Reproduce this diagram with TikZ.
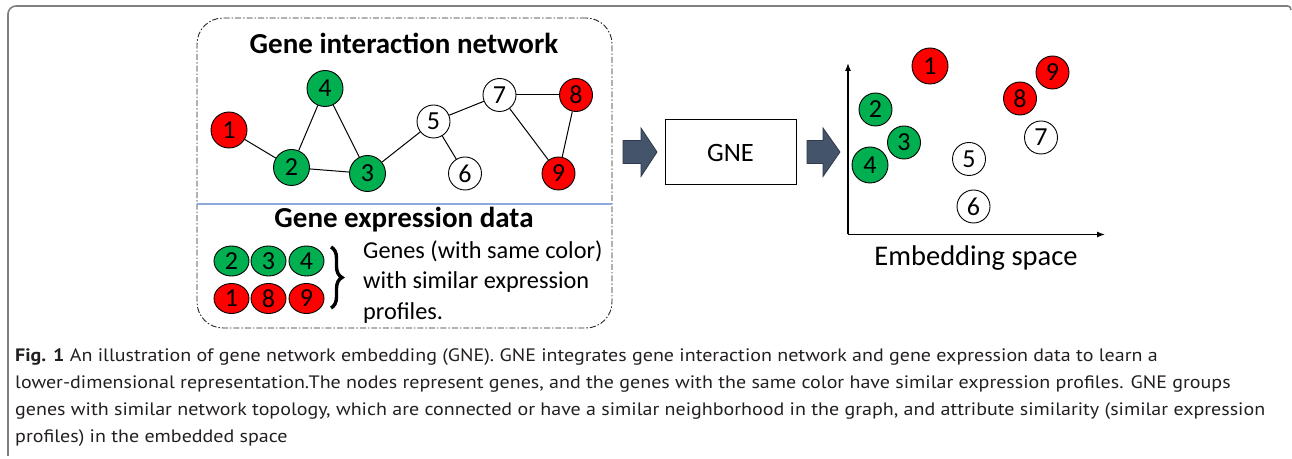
\documentclass[tikz,border=0pt]{standalone}
\usepackage{fontspec}
\setmainfont{Carlito}
\newfontfamily\capfont{PT Sans}
\usetikzlibrary{decorations.pathreplacing,arrows.meta,shapes.geometric}
\definecolor{gred}{HTML}{FF0000}
\definecolor{ggreen}{HTML}{00B050}
\definecolor{slate}{HTML}{44546A}
\definecolor{slateedge}{HTML}{2F3A4A}
\definecolor{sepblue}{HTML}{8EA9DB}
\definecolor{framegray}{HTML}{7F7F7F}
\definecolor{captext}{HTML}{231F20}
\newcommand\capfontsel{\capfont\fontsize{18bp}{27bp}\selectfont}
\newsavebox\capmeasure
\newcommand\capl[1]{\scalebox{\capsx}[1]{#1}}
\begin{document}
\sbox\capmeasure{\capfontsel genes with similar network topology, which are connected or have a similar neighborhood in the graph, and attribute similarity (similar expression}%
\pgfmathsetmacro\capsx{1250bp/\wd\capmeasure}%
\begin{tikzpicture}[x=1bp,y=-1bp,
  gnode/.style={circle, draw=black, line width=0.9bp, minimum size=36bp, inner sep=0pt,
    font=\fontsize{26bp}{26bp}\selectfont},
  snode/.style={gnode, minimum size=33bp},
  rnode/.style={gnode, fill=gred},
  grnode/.style={gnode, fill=ggreen},
  wnode/.style={snode, fill=white},
  xnode/.style={ellipse, draw=black, line width=0.9bp, minimum width=35bp, minimum height=30bp, inner sep=0pt,
    font=\fontsize{26bp}{26bp}\selectfont},
  edge/.style={draw=black, line width=1bp},
  title/.style={font=\fontsize{29bp}{30bp}\selectfont\bfseries},
  body/.style={font=\fontsize{24.3bp}{30.5bp}\selectfont},
  blockarrow/.style={fill=slate, draw=slateedge, line width=0.8bp},
  axis/.style={draw=black, line width=1.3bp, -{Latex[length=8bp,width=6bp]}},
  capstyle/.style={anchor=base west, inner sep=0pt, text=captext, font=\capfontsel}
]
\useasboundingbox (0,0) rectangle (1292,459);
% outer frame
\draw[framegray, line width=1.6bp, rounded corners=8bp] (8,456) -- (8,6) -- (1288,6);
\draw[framegray, line width=1.6bp] (1288,6) to[out=0,in=90] (1291,10);

% panel
\node[draw=black!85, line width=0.9bp, dash pattern=on 6bp off 2bp on 1.5bp off 2bp,
  rounded corners=26bp, minimum width=415bp, minimum height=310bp] (panel) at (404.5,173) {};
\draw[sepblue, line width=1.3bp] (panel.west |- 0,204) -- (panel.east |- 0,204);
\node[title] (t1) at (404,43) {Gene interaction network};
\node[title] (t2) at (404,220) {Gene expression data};

% network
\node[rnode]  (n1) at (229,130) {1};
\node[grnode] (n2) at (291.5,167.5) {2};
\node[grnode] (n3) at (367.5,173.5) {3};
\node[grnode] (n4) at (325,88.5) {4};
\node[wnode]  (n5) at (433.5,121.5) {5};
\node[wnode]  (n6) at (465,173.5) {6};
\node[wnode]  (n7) at (499.5,95) {7};
\node[snode, fill=gred] (n8) at (576,95) {8};
\node[snode, fill=gred] (n9) at (558.5,173.5) {9};
\foreach \a/\b in {n1/n2,n2/n4,n4/n3,n2/n3,n3/n5,n5/n6,n5/n7,n7/n8,n7/n9,n8/n9}
  \draw[edge] (\a) -- (\b);

% expression data
\node[xnode, fill=ggreen] (x2) at (231.5,261) {2};
\node[xnode, fill=ggreen] (x3) at (268.5,261) {3};
\node[xnode, fill=ggreen] (x4) at (306.5,261) {4};
\node[xnode, fill=gred] (x1) at (231.5,298.5) {1};
\node[xnode, fill=gred] (x8) at (268.5,298.5) {8};
\node[xnode, fill=gred] (x9) at (306.5,298.5) {9};
\coordinate (bt) at (331,247);
\coordinate (bb) at (331,308);
\draw[decorate, decoration={brace, amplitude=11bp, aspect=0.5}, line width=3.4bp] (bt) -- (bb);
\node[body, anchor=west, align=left, inner sep=0pt] (gtxt) at (363,282)
  {Genes (with same color)\\with similar expression\\profiles.};

% block arrows and GNE box
\coordinate (a1) at (623,152);
\fill[blockarrow] (a1) ++(0,-11.5) -- ++(18,0) -- ++(0,-12.5) -- (657,152) -- (641,176.5) -- (641,163.5) -- (623,163.5) -- cycle;
\node[draw=black, line width=1bp, minimum width=131bp, minimum height=65bp, inner sep=0pt,
  font=\fontsize{26.5bp}{28bp}\selectfont] (gne) at (730.5,152.5) {GNE};
\coordinate (a2) at (807,152);
\fill[blockarrow] (a2) ++(0,-11.5) -- ++(16,0) -- ++(0,-12.5) -- (840,152) -- (823,176.5) -- (823,163.5) -- (807,163.5) -- cycle;

% embedding space
\coordinate (O) at (848,234.5);
\coordinate (ytop) at (848,63);
\coordinate (xend) at (1105,234.5);
\draw[axis] (O) -- (ytop);
\draw[axis] (O) -- (xend);
\node[rnode]  (e1) at (930,66) {1};
\node[snode, fill=gred] (e9) at (1052.5,72.5) {9};
\node[snode, fill=gred] (e8) at (1020,98.5) {8};
\node[snode, fill=ggreen] (e2) at (875.5,109.5) {2};
\node[snode, fill=ggreen] (e3) at (904,142.5) {3};
\node[grnode] (e4) at (870,165) {4};
\node[wnode]  (e7) at (1041,137.5) {7};
\node[wnode]  (e5) at (969,159) {5};
\node[wnode]  (e6) at (973.5,206.5) {6};
\node[font=\fontsize{28.5bp}{30bp}\selectfont] (emb) at (976,258.5) {Embedding space};

% caption
\node[capstyle] (c1) at (15,362) {\capl{\textbf{Fig. 1} An illustration of gene network embedding (GNE). GNE integrates gene interaction network and gene expression data to learn a}};
\node[capstyle] (c2) at (15,389) {\capl{lower-dimensional representation.The nodes represent genes, and the genes with the same color have similar expression profiles. GNE groups}};
\node[capstyle] (c3) at (15,416) {\capl{genes with similar network topology, which are connected or have a similar neighborhood in the graph, and attribute similarity (similar expression}};
\node[capstyle] (c4) at (15,443) {\capl{profiles) in the embedded space}};
\end{tikzpicture}
\end{document}
